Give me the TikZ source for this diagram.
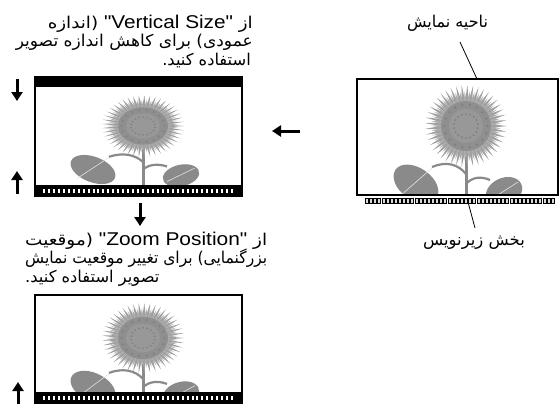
\documentclass[tikz,border=0pt]{standalone}
\usepackage{fontspec}
\usepackage{graphicx}
\setmainfont{Liberation Sans}[Ligatures=TeXOff]
\newfontfamily\fa[Script=Arabic,Scale=0.88]{DejaVu Sans}
\TeXXeTstate=1
\usetikzlibrary{arrows.meta}

% stretch a line of Persian text to a given width (in pt)
\makeatletter
\newcommand\fitline[2]{%
  \setbox0\hbox{\fa #2}%
  \edef\fitfactor{\strip@pt\dimexpr #1pt*65536/\wd0\relax}%
  \scalebox{\fitfactor}[1]{\box0}}
\makeatother
\newcommand\lat[1]{\beginL{\normalfont #1}\endL}

\definecolor{petal}{RGB}{160,160,160}
\definecolor{disk}{RGB}{143,143,143}
\definecolor{leaf}{RGB}{138,138,138}

\tikzset{
  txt/.style={inner sep=0pt, font=\fontsize{18.5}{18.5}\selectfont},
  bigarrow/.style={line width=3pt, -{Triangle[width=11pt,length=9pt]}},
  lead/.style={line width=0.8pt},
  sunflower/.pic={
    % leaves
    \fill[leaf, rotate around={-35:(-50,58)}] (-50,58) ellipse [x radius=25, y radius=16];
    \fill[leaf, rotate around={25:(38,66)}] (38,66) ellipse [x radius=19, y radius=14];
    \draw[white!75!leaf, line width=0.6pt] (-66,70) -- (-34,42);
    \draw[white!75!leaf, line width=0.6pt] (24,74) -- (52,56);
    % stem and branches
    \draw[leaf, line width=3pt] (0,30) -- (0,90);
    \draw[leaf, line width=2.2pt] (0,48) .. controls (-8,38) and (-20,35) .. (-34,41);
    \draw[leaf, line width=2.2pt] (0,58) .. controls (6,51) and (15,50) .. (24,54);
    % petals
    \foreach \a in {0,8,...,352} {
      \fill[petal] (\a-5:23) -- (\a:41) -- (\a+5:23) -- cycle;
    }
    \foreach \a in {4,12,...,356} {
      \fill[petal!88!white] (\a-4.5:22) -- (\a:35) -- (\a+4.5:22) -- cycle;
    }
    % seed disk
    \fill[disk] (0,0) circle (25);
    \fill[disk!92!white] (0,0) circle (17);
    \foreach \a in {0,20,...,340} {
      \fill[disk!88!black] (\a:21.5) circle (1.2);
      \fill[disk!88!black] (\a+10:12) circle (1);
    }
  }
}

\begin{document}
\begin{tikzpicture}[x=1pt, y=-1pt]
\useasboundingbox (0,0) rectangle (560,413);

% ---------- right: full picture with subtitle strip ----------
\begin{scope}
  \clip (357,79) rectangle (558,195);
  \pic at (466,126) {sunflower};
\end{scope}
\draw[line width=2.2pt] (357,79) rectangle (558,195);
\foreach \i in {0,...,45}
  \draw[line width=0.6pt, fill=black!15] (365.3+\i*4.13,198.5) rectangle ++(3,5);

\node[txt, anchor=base] (area) at (447.5,27) {\fitline{81}{\beginR ناحیه نمایش\endR}};
\coordinate (areatop) at (460,42);
\coordinate (areaedge) at (477,79);
\draw[lead] (areatop) -- (areaedge);

\node[txt, anchor=base] (sub) at (474,245) {\fitline{102}{\beginR بخش زیرنویس\endR}};
\coordinate (substrip) at (468,202);
\coordinate (subtail) at (475,228);
\draw[lead] (substrip) -- (subtail);

% ---------- arrow from right to left ----------
\coordinate (arrR) at (300,131);
\coordinate (arrL) at (272,131);
\draw[bigarrow] (arrR) -- (arrL);

% ---------- top left: vertical size reduced (right aligned) ----------
\node[txt, anchor=base east] (t1) at (253,28)
  {\fitline{205}{\beginR از \lat{"Vertical Size"} (اندازه\endR}};
\node[txt, anchor=base east] (t2) at (253,46.5)
  {\fitline{237}{\beginR عمودی) برای کاهش اندازه تصویر\endR}};
\node[txt, anchor=base east] (t3) at (251,65)
  {\fa\beginR استفاده کنید.\endR};

\begin{scope}
  \clip (35,87) rectangle (242,185);
  \pic[yscale=0.75] at (143,126) {sunflower};
\end{scope}
\fill (35,77) rectangle (242,87);
\fill (35,185) rectangle (242,196);
\foreach \i in {0,...,38}
  \fill[white] (43+\i*4.95,188.5) rectangle ++(2,4);
\draw[line width=1.5pt] (35,77) rectangle (242,196);

\coordinate (d1a) at (17,79);
\coordinate (d1b) at (17,101);
\draw[bigarrow] (d1a) -- (d1b);
\coordinate (u1a) at (17,194);
\coordinate (u1b) at (17,171);
\draw[bigarrow] (u1a) -- (u1b);

% ---------- down arrow ----------
\coordinate (d2a) at (140,203);
\coordinate (d2b) at (140,226);
\draw[bigarrow] (d2a) -- (d2b);

% ---------- bottom left: zoom position changed ----------
\node[txt, anchor=base west] (m1) at (25,245)
  {\fitline{242}{\beginR از \lat{"Zoom Position"} (موقعیت\endR}};
\node[txt, anchor=base west] (m2) at (25,263.5)
  {\fitline{242}{\beginR بزرگنمایی) برای تغییر موقعیت نمایش\endR}};
\node[txt, anchor=base west] (m3) at (25,282)
  {\fa\beginR تصویر استفاده کنید.\endR};

\begin{scope}
  \clip (35,295) rectangle (242,392);
  \pic[yscale=0.85] at (143,338) {sunflower};
\end{scope}
\fill (35,392) rectangle (242,403);
\foreach \i in {0,...,38}
  \fill[white] (43+\i*4.95,395.5) rectangle ++(2,4);
\draw[line width=1.5pt] (35,295) rectangle (242,403);

\coordinate (u2a) at (18,404);
\coordinate (u2b) at (18,382);
\draw[bigarrow] (u2a) -- (u2b);
\end{tikzpicture}
\end{document}
